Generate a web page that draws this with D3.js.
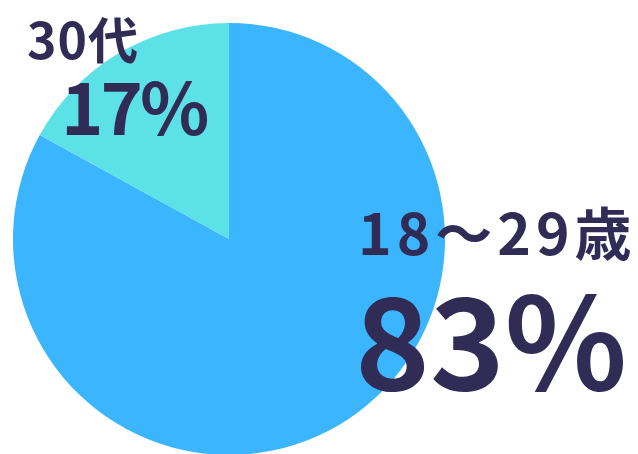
<!DOCTYPE html>
<html>
<head>
<meta charset="utf-8">
<script src="https://cdn.jsdelivr.net/npm/d3@7"></script>
<style>
  html, body { margin: 0; padding: 0; background: #fff; }
  svg text { font-family: "Noto Sans CJK JP", "Noto Sans", sans-serif; font-weight: 700; fill: #302c56; }
</style>
</head>
<body>
<svg id="chart"></svg>
<script>
// age groups and their share
const categories = ["18～29歳", "30代"];
const values = [83, 17];
const labels = ["83%", "17%"];
const colors = ["#3bb5fd", "#5ce1e6"];

const width = 638;
const height = 454;

const svg = d3.select("#chart")
    .attr("width", width)
    .attr("height", height);

const cx = 229, cy = 239, radius = 216;

// clockwise from 12 o'clock, so the small slice ends back at the top
const pie = d3.pie()
    .sort(null)
    .value(d => d);

const arc = d3.arc().innerRadius(0).outerRadius(radius);

svg.append("g")
    .attr("transform", `translate(${cx},${cy})`)
    .selectAll("path")
    .data(pie(values))
    .enter()
    .append("path")
    .attr("d", arc)
    .attr("fill", (d, i) => colors[i]);

// labels: [x, y, font size, letter spacing]
const labelPos = [
    { name: [358, 255, 57, 5], pct: [355, 390, 127, 0] },
    { name: [27, 59, 50, 1], pct: [61, 135, 72, -3] }
];

categories.forEach((c, i) => {
    const p = labelPos[i];
    svg.append("text")
        .attr("x", p.name[0]).attr("y", p.name[1])
        .style("font-size", p.name[2] + "px")
        .style("letter-spacing", p.name[3] + "px")
        .text(c);
    svg.append("text")
        .attr("x", p.pct[0]).attr("y", p.pct[1])
        .style("font-size", p.pct[2] + "px")
        .style("letter-spacing", p.pct[3] + "px")
        .text(labels[i]);
});
</script>
</body>
</html>
